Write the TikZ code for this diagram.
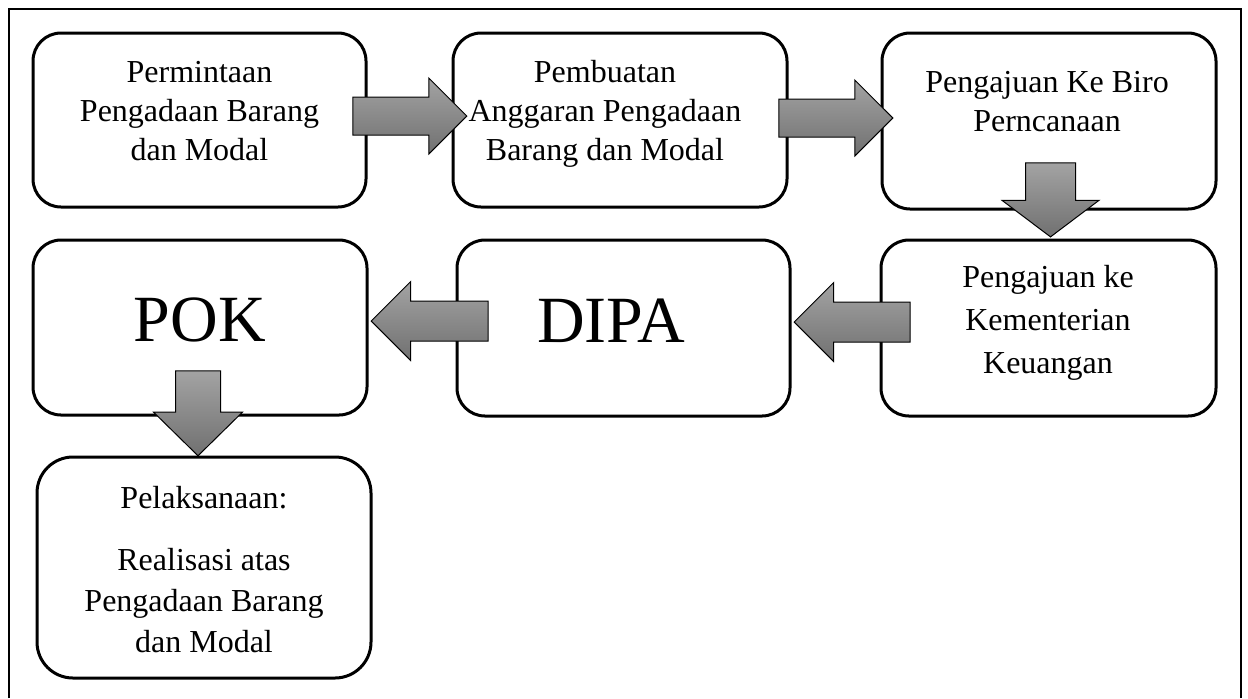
\documentclass[tikz,border=0pt]{standalone}
\usepackage{fontspec}
\setmainfont{Liberation Serif}
\usetikzlibrary{shapes.arrows}

\begin{document}
\begin{tikzpicture}[x=0.5pt,y=-0.5pt,
  box/.style={draw,line width=1.5pt,rounded corners=14pt,inner sep=0pt},
  txt/.style={align=center,font=\fontsize{16}{19.5}\selectfont,anchor=base},
  big/.style={font=\fontsize{33}{36}\selectfont},
  blk/.style={single arrow,draw,line width=0.5pt,top color=black!36,bottom color=black!56,
    inner xsep=0pt,minimum width=0pt,anchor=tip},
  blkdown/.style={blk,shape border rotate=270,inner ysep=0pt}]
  \useasboundingbox (0,0) rectangle (1248,698);
  \draw[line width=1.2pt] (9,698) -- (9,9) -- (1241,9) -- (1241,698);

  \foreach \n/\x/\y/\w/\h in {b1/199.5/120/333/174, b2/620/120/334/174, b3/1049/121/334/176,
      b4/1048.5/328/335/176, b5/623.5/328/333/176, b6/200/327.5/334/175}
    \node[box,minimum width=\w*0.5pt,minimum height=\h*0.5pt] (\n) at (\x,\y) {};
  \node[box,rounded corners=18pt,minimum width=167pt,minimum height=110.5pt] (b7) at (204,567.5) {};

  \node[txt] (t1) at (199.5,160) {Permintaan\\Pengadaan Barang\\dan Modal};
  \node[txt] (t2) at (605,160) {Pembuatan\\Anggaran Pengadaan\\Barang dan Modal};
  \node[txt] (t3) at (1047,131) {Pengajuan Ke Biro\\Perncanaan};
  \node[txt,font=\fontsize{16}{21.5}\selectfont] (t4) at (1048,373) {Pengajuan ke\\Kementerian\\Keuangan};
  \node[big] (t5) at (611,321) {DIPA};
  \node[big] (t6) at (200,320) {POK};
  \node[txt,font=\fontsize{16}{20.5}\selectfont] (t7) at (204,652) {Pelaksanaan:\\[10.5pt]Realisasi atas\\Pengadaan Barang\\dan Modal};

  \node[blk,minimum height=57pt,inner ysep=9.25pt,single arrow head extend=9.5pt] (a12) at ([shift={(16,-4)}]b2.west) {};
  \node[blk,minimum height=57pt,inner ysep=9.25pt,single arrow head extend=9.5pt] (a23) at ([shift={(13,-3)}]b3.west) {};
  \node[blkdown,minimum height=37pt,inner xsep=12.25pt,single arrow head extend=11.75pt,
    single arrow tip angle=106] (a34) at ([shift={(2,-1)}]b4.north) {};
  \node[blk,shape border rotate=180,minimum height=58pt,inner ysep=9.75pt,single arrow head extend=9.75pt] (a45) at ([shift={(2,-6)}]b5.east) {};
  \node[blk,shape border rotate=180,minimum height=58.5pt,inner ysep=9.75pt,single arrow head extend=9.75pt] (a56) at ([shift={(2,-6.5)}]b6.east) {};
  \node[blkdown,minimum height=42.5pt,inner xsep=11pt,single arrow head extend=11pt,
    single arrow tip angle=91] (a67) at ([shift={(-6,1)}]b7.north) {};
\end{tikzpicture}
\end{document}
